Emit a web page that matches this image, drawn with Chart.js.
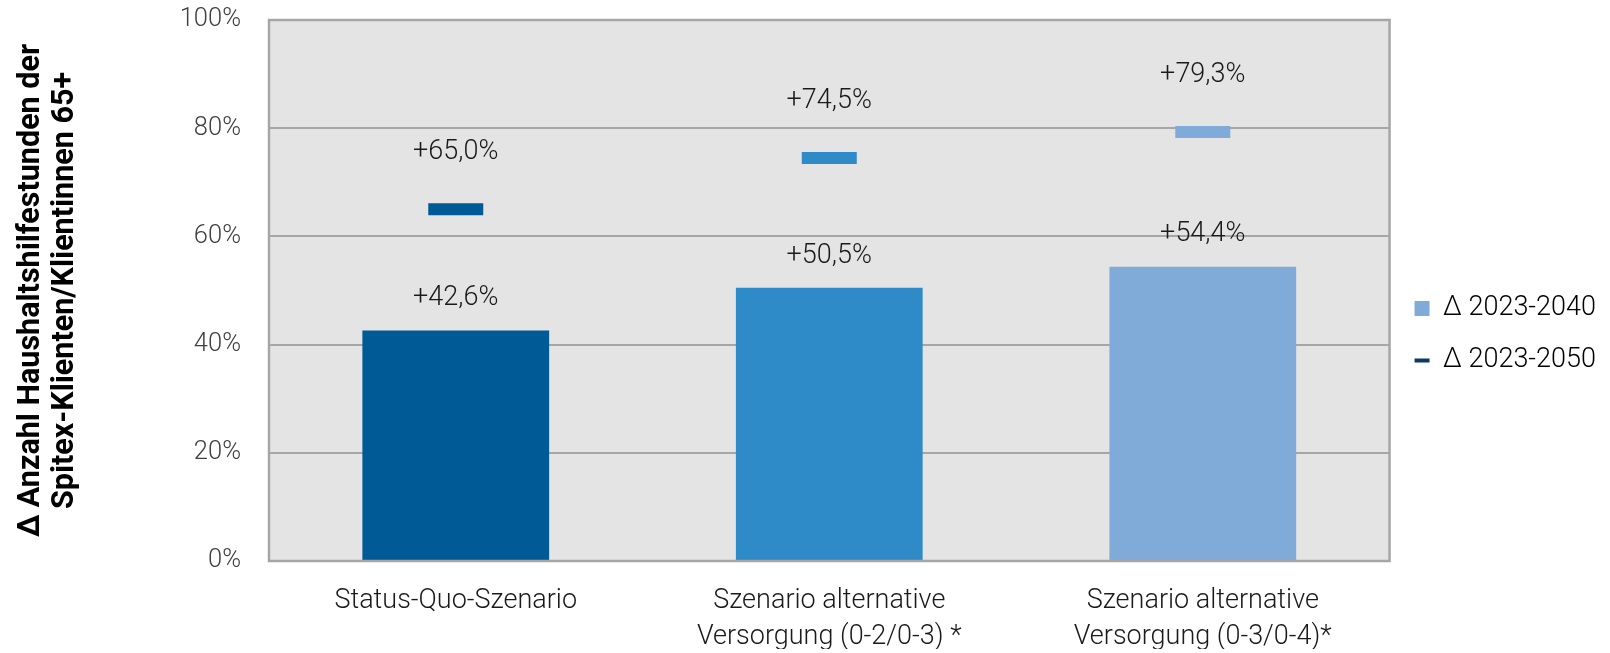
<!DOCTYPE html>
<html>
<head>
<meta charset="utf-8">
<script src="https://cdn.jsdelivr.net/npm/chart.js@4"></script>
<style>
  html, body { margin: 0; padding: 0; background: #fff; }
  #wrap { width: 1610px; height: 653px; }
</style>
</head>
<body>
<div id="wrap"><canvas id="myChart" width="1610" height="653"></canvas></div>
<script>
'use strict';
const categories = [
  'Status-Quo-Szenario',
  ['Szenario alternative', 'Versorgung (0-2/0-3) *'],
  ['Szenario alternative', 'Versorgung (0-3/0-4)*'],
];
const values2040 = [42.6, 50.5, 54.4];
const values2050 = [65.0, 74.5, 79.3];
const seriesNames = ['Δ 2023-2040', 'Δ 2023-2050'];
const yTicks = [0, 20, 40, 60, 80, 100];
const colors = ['#005A96', '#2E8BC8', '#80ABD8'];

const axisTitle = ['Δ Anzahl Haushaltshilfestunden der', 'Spitex-Klienten/Klientinnen 65+'];

function fmt(v) {
  return '+' + v.toFixed(1).replace('.', ',') + '%';
}

// grey plot background with frame
const plotBg = {
  id: 'plotBg',
  beforeDraw(chart) {
    const a = chart.chartArea;
    const ctx = chart.ctx;
    ctx.save();
    ctx.fillStyle = '#E4E4E4';
    ctx.fillRect(a.left, a.top, a.right - a.left, a.bottom - a.top);
    ctx.restore();
  },
  afterDraw(chart) {
    const a = chart.chartArea;
    const ctx = chart.ctx;
    ctx.save();
    ctx.strokeStyle = '#A6A6A6';
    ctx.lineWidth = 2.5;
    ctx.strokeRect(a.left, a.top, a.right - a.left, a.bottom - a.top);
    ctx.restore();
  }
};

// value labels above bars and markers
const valueLabels = {
  id: 'valueLabels',
  afterDatasetsDraw(chart) {
    const ctx = chart.ctx;
    ctx.save();
    ctx.font = '300 27px Roboto';
    ctx.fillStyle = '#1a1a1a';
    ctx.textAlign = 'center';
    ctx.textBaseline = 'middle';
    chart.getDatasetMeta(0).data.forEach((el, i) => {
      ctx.fillText(fmt(values2040[i]), el.x, el.y - 32);
    });
    chart.getDatasetMeta(1).data.forEach((el, i) => {
      ctx.fillText(fmt(values2050[i]), el.x, el.y - 57);
    });
    ctx.restore();
  }
};

let ctx = document.getElementById('myChart').getContext('2d');
let chart = new Chart(ctx, {
  type: 'bar',
  data: {
    labels: categories,
    datasets: [{
      label: seriesNames[0],
      data: values2040,
      backgroundColor: colors,
      categoryPercentage: 1,
      barPercentage: 0.5,
      order: 2
    },
    {
      type: 'line',
      label: seriesNames[1],
      data: values2050,
      showLine: false,
      pointStyle: 'line',
      pointRadius: 27.5,
      pointHoverRadius: 27.5,
      pointBorderWidth: 12,
      pointBorderColor: colors,
      pointBackgroundColor: colors,
      order: 1
    }]
  },
  options: {
    responsive: false,
    animation: false,
    layout: { autoPadding: false, padding: { left: 14, right: 4, top: 20, bottom: 4 } },
    plugins: {
      tooltip: { enabled: false },
      legend: {
        position: 'right',
        align: 'center',
        labels: {
          usePointStyle: true,
          pointStyleWidth: 15,
          boxHeight: 15,
          padding: 25,
          color: '#1a1a1a',
          font: { family: 'Roboto', size: 27, weight: '300' },
          generateLabels() {
            return [
              { text: seriesNames[0], fillStyle: colors[2], strokeStyle: colors[2], lineWidth: 0, pointStyle: 'rect', datasetIndex: 0 },
              { text: seriesNames[1], fillStyle: '#0B3A66', strokeStyle: '#0B3A66', lineWidth: 4, pointStyle: 'line', datasetIndex: 1 }
            ];
          }
        }
      }
    },
    scales: {
      x: {
        grid: { display: false, drawTicks: false },
        border: { display: false },
        afterFit(axis) { axis.height = 88; },
        ticks: {
          color: '#1a1a1a',
          padding: 22,
          maxRotation: 0,
          font: { family: 'Roboto', size: 27, weight: '300', lineHeight: 1.33 }
        }
      },
      y: {
        min: 0,
        max: 100,
        afterBuildTicks(axis) {
          axis.ticks = yTicks.map(v => ({ value: v }));
        },
        afterFit(axis) {
          axis.width = 255;
          axis.paddingTop = 0;
          axis.paddingBottom = 0;
        },
        grid: { color: '#A6A6A6', lineWidth: 2, drawTicks: false },
        border: { display: false },
        ticks: {
          color: '#404040',
          padding: 28,
          font: { family: 'Roboto', size: 25.5, weight: '300' },
          callback: v => v + '%'
        },
        title: {
          display: true,
          text: axisTitle,
          color: '#000',
          padding: 0,
          font: { family: 'Roboto', size: 30.5, weight: 'bold', lineHeight: 1.12 }
        }
      }
    }
  },
  plugins: [plotBg, valueLabels]
});
</script>
</body>
</html>
